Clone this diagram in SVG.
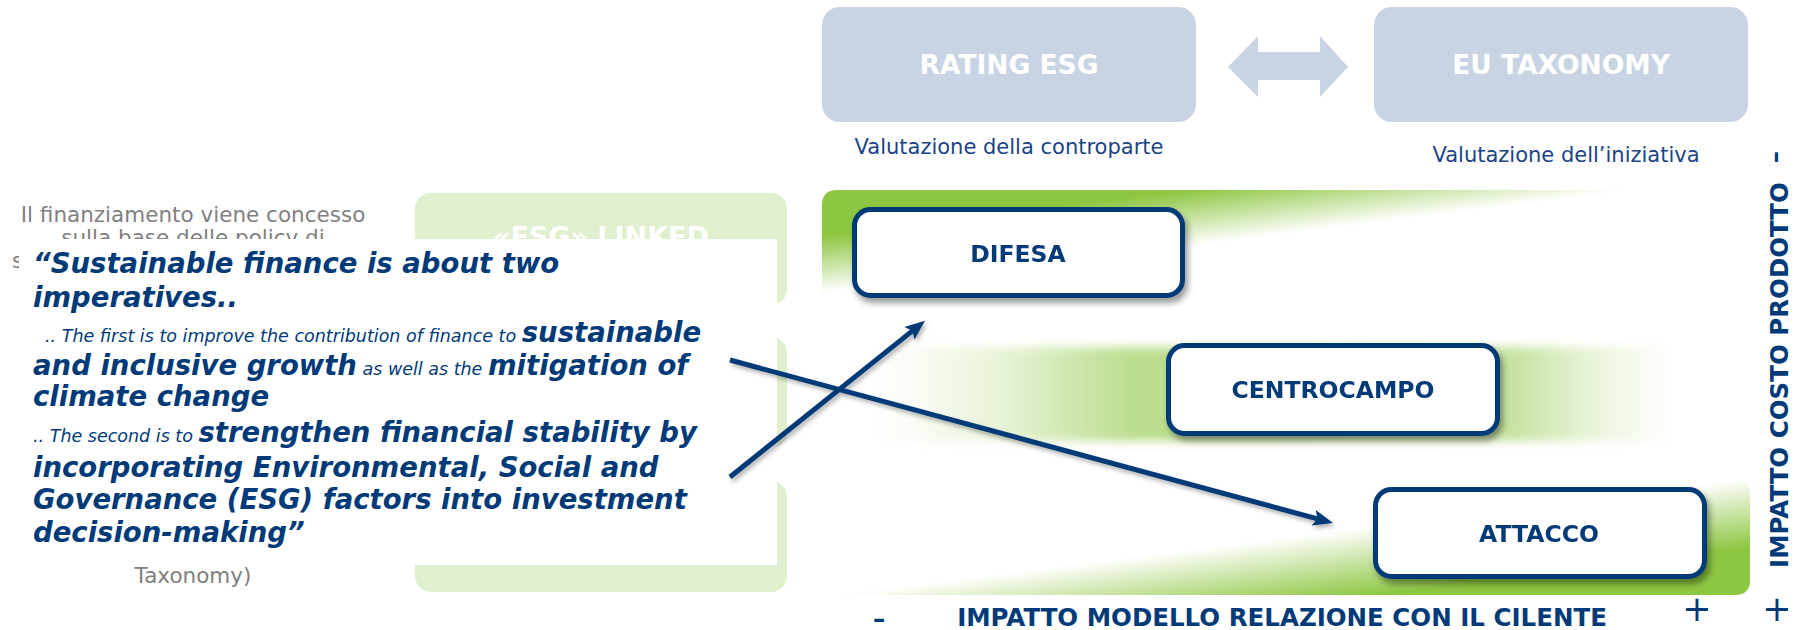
<svg xmlns="http://www.w3.org/2000/svg" width="1794" height="630" viewBox="0 0 1794 630">
<defs>
<style>
text{font-family:"DejaVu Sans",Verdana,sans-serif}
.topbox{fill:#c8d4e3}
.toptxt{fill:#ffffff;font-weight:bold;font-size:26.5px;text-anchor:middle}
.sub{fill:#1a4485;font-size:21px;text-anchor:middle}
.node rect{fill:#ffffff;stroke:#003a78;stroke-width:5}
.node text{fill:#003a78;font-weight:bold;font-size:23.5px;text-anchor:middle}
.panel{fill:#e0f0cf}
.gray{fill:#808080;font-size:21.5px;text-anchor:middle}
.q{fill:#003a78;font-weight:bold;font-style:italic;font-size:27.5px}
.qs{font-weight:normal;font-size:17.5px}
.axis{fill:#003a78;font-weight:bold;font-size:24.5px}
.plus{fill:#003a78;font-size:35px;text-anchor:middle}
.conn{stroke:#003a78;stroke-width:5;fill:none;marker-end:url(#ah)}
</style>
<marker id="ah" markerUnits="userSpaceOnUse" markerWidth="22" markerHeight="18" refX="5" refY="8" orient="auto" overflow="visible">
<path d="M0,0 L20,8 L0,16 L4,8 Z" fill="#003a78"/>
</marker>
<linearGradient id="gTop" gradientUnits="userSpaceOnUse" x1="1227.5" y1="241.5" x2="1214.6" y2="140.1">
<stop offset="0" stop-color="#8dc641" stop-opacity="0"/>
<stop offset="0.55" stop-color="#8dc641" stop-opacity="1"/>
<stop offset="1" stop-color="#8dc641" stop-opacity="1"/>
</linearGradient>
<linearGradient id="gBot" gradientUnits="userSpaceOnUse" x1="1284" y1="537.5" x2="1298.7" y2="652.5">
<stop offset="0" stop-color="#8dc641" stop-opacity="0"/>
<stop offset="0.6" stop-color="#8dc641" stop-opacity="1"/>
<stop offset="1" stop-color="#8dc641" stop-opacity="1"/>
</linearGradient>
<linearGradient id="gMid" gradientUnits="userSpaceOnUse" x1="880" y1="0" x2="1670" y2="0">
<stop offset="0" stop-color="#8dc641" stop-opacity="0"/>
<stop offset="0.15" stop-color="#8dc641" stop-opacity="0.2"/>
<stop offset="0.32" stop-color="#8dc641" stop-opacity="0.6"/>
<stop offset="0.5" stop-color="#8dc641" stop-opacity="0.6"/>
<stop offset="0.8" stop-color="#8dc641" stop-opacity="0.5"/>
<stop offset="0.9" stop-color="#8dc641" stop-opacity="0.2"/>
<stop offset="1" stop-color="#8dc641" stop-opacity="0"/>
</linearGradient>
<filter id="blur" x="-5%" y="-30%" width="110%" height="160%"><feGaussianBlur stdDeviation="5"/></filter>
<filter id="sh" x="-10%" y="-20%" width="130%" height="150%"><feDropShadow dx="3" dy="5" stdDeviation="3" flood-color="#000" flood-opacity="0.4"/></filter>
<filter id="ash" x="-10%" y="-20%" width="130%" height="150%"><feDropShadow dx="2" dy="3" stdDeviation="2" flood-color="#000" flood-opacity="0.3"/></filter>
</defs>

<rect width="1794" height="630" fill="#ffffff"/>

<!-- top boxes -->
<g id="rating-esg">
<rect class="topbox" x="822" y="7" width="374" height="115" rx="18"/>
<text class="toptxt" x="1009" y="74">RATING ESG</text>
</g>
<g id="eu-taxonomy">
<rect class="topbox" x="1374" y="7" width="374" height="115" rx="18"/>
<text class="toptxt" x="1561" y="74">EU TAXONOMY</text>
</g>
<g id="double-arrow">
<polygon class="topbox" points="1228,67 1258,36 1258,52 1320,52 1320,36 1348,67 1320,97 1320,80 1258,80 1258,97"/>
</g>
<text class="sub" x="1009" y="154">Valutazione della controparte</text>
<text class="sub" x="1566" y="162">Valutazione dell’iniziativa</text>

<!-- bands -->
<g id="bands">
<path d="M822,293 L822,205 Q822,190 837,190 L1633,190 Z" fill="url(#gTop)"/>
<rect x="880" y="347" width="790" height="94" fill="url(#gMid)" filter="url(#blur)"/>
<path d="M833,595 L1735,480 Q1750,480 1750,495 L1750,580 Q1750,595 1735,595 Z" fill="url(#gBot)"/>
</g>

<!-- left panels and gray text (mostly covered) -->
<g id="left-panels">
<rect class="panel" x="415" y="193" width="372" height="112" rx="16"/>
<rect class="panel" x="415" y="337" width="372" height="111" rx="16"/>
<rect class="panel" x="415" y="481" width="372" height="111" rx="16"/>
<text x="601" y="246" fill="#ffffff" font-weight="bold" font-size="27" text-anchor="middle">«ESG» LINKED</text>
</g>
<g id="gray-text">
<text class="gray" x="193" y="222">Il finanziamento viene concesso</text>
<text class="gray" x="193" y="245">sulla base delle policy di</text>
<text class="gray" x="12" y="268" style="text-anchor:start">s</text>
<text class="gray" x="193" y="583">Taxonomy)</text>
</g>

<!-- quote -->
<g id="quote">
<rect x="19" y="239" width="758" height="326" fill="#ffffff"/>
<text class="q" x="33" y="273">“Sustainable finance is about two</text>
<text class="q" x="33" y="307">imperatives..</text>
<text class="q" x="45" y="342"><tspan class="qs">.. The first is to improve the contribution of finance to </tspan>sustainable</text>
<text class="q" x="33" y="375">and inclusive growth<tspan class="qs"> as well as the </tspan>mitigation of</text>
<text class="q" x="33" y="406">climate change</text>
<text class="q" x="33" y="442"><tspan class="qs">.. The second is to </tspan>strengthen financial stability by</text>
<text class="q" x="33" y="477">incorporating Environmental, Social and</text>
<text class="q" x="33" y="509">Governance (ESG) factors into investment</text>
<text class="q" x="33" y="542">decision-making”</text>
</g>

<!-- nodes -->
<g id="difesa" class="node" filter="url(#sh)">
<rect x="854.5" y="209.5" width="328" height="86" rx="16"/>
<text x="1018" y="262">DIFESA</text>
</g>
<g id="centrocampo" class="node" filter="url(#sh)">
<rect x="1168.5" y="345.5" width="329" height="88" rx="16"/>
<text x="1333" y="398">CENTROCAMPO</text>
</g>
<g id="attacco" class="node" filter="url(#sh)">
<rect x="1375.5" y="489.5" width="329" height="87" rx="16"/>
<text x="1539" y="542">ATTACCO</text>
</g>

<!-- connectors -->
<g id="connectors" filter="url(#ash)">
<line class="conn" x1="730" y1="477" x2="913.3" y2="330.1"/>
<line class="conn" x1="730" y1="360" x2="1318.5" y2="519.1"/>
</g>

<!-- axes -->
<g id="axis-x">
<text class="axis" x="879" y="627" text-anchor="middle">–</text>
<text class="axis" x="1282" y="626" text-anchor="middle">IMPATTO MODELLO RELAZIONE CON IL CILENTE</text>
<text class="plus" x="1697" y="621">+</text>
</g>
<g id="axis-y">
<text class="axis" transform="translate(1783,157) rotate(-90)" text-anchor="middle" font-size="22">–</text>
<text class="axis" transform="translate(1788,375) rotate(-90)" text-anchor="middle" font-size="25">IMPATTO COSTO PRODOTTO</text>
<text class="plus" x="1777" y="621">+</text>
</g>
</svg>
